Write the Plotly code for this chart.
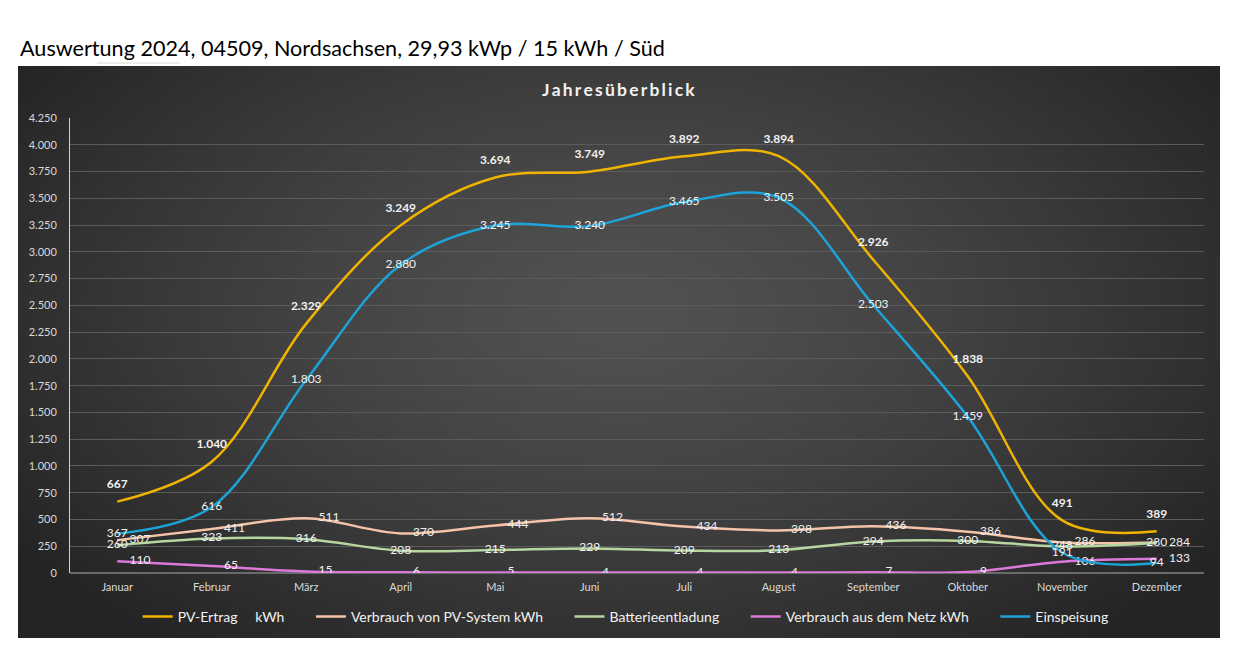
import base64, struct, zlib
import numpy as np
import plotly.graph_objects as go

months = ["Januar", "Februar", "März", "April", "Mai", "Juni", "Juli",
          "August", "September", "Oktober", "November", "Dezember"]
pv_ertrag = [667, 1040, 2329, 3249, 3694, 3749, 3892, 3894, 2926, 1838, 491, 389]
verbrauch_pv = [307, 411, 511, 370, 444, 512, 434, 398, 436, 386, 286, 284]
batterie = [260, 323, 316, 208, 215, 229, 209, 213, 294, 300, 248, 280]
netz = [110, 65, 15, 6, 5, 4, 4, 4, 7, 9, 106, 133]
einspeisung = [367, 616, 1803, 2880, 3245, 3240, 3465, 3505, 2503, 1459, 191, 94]
y_ticks = list(range(0, 4251, 250))

W, H = 1241, 664
ML, MR, MT, MB = 70, 37, 118, 91
PW, PH = W - ML - MR, H - MT - MB


def px_x(p):
    return (p - ML) / PW


def px_y(p):
    return (H - MB - p) / PH


def make_png(w, h):
    yy, xx = np.mgrid[0:h, 0:w]
    cx, cy = w * 0.5, h * 0.42
    d = np.sqrt(((xx - cx) / (w * 0.62)) ** 2 + ((yy - cy) / (h * 0.75)) ** 2)
    d = np.clip(d, 0, 1)
    v = 82 - (82 - 36) * d ** 1.3
    img = np.stack([v, v, v], axis=-1).astype(np.uint8)
    raw = b"".join(b"\x00" + img[r].tobytes() for r in range(h))

    def chunk(t, data):
        c = struct.pack(">I", len(data)) + t + data
        return c + struct.pack(">I", zlib.crc32(t + data) & 0xffffffff)

    png = b"\x89PNG\r\n\x1a\n" + chunk(b"IHDR", struct.pack(">IIBBBBB", w, h, 8, 2, 0, 0, 0))
    png += chunk(b"IDAT", zlib.compress(raw, 9)) + chunk(b"IEND", b"")
    return "data:image/png;base64," + base64.b64encode(png).decode()


FONT = "Lato"
LBL = "#f2f2f2"
PAD = "\u00a0" * 6

fig = go.Figure()

series = [
    ("PV-Ertrag\u00a0\u00a0\u00a0\u00a0 kWh" + PAD, pv_ertrag, "#f0b400", "top center", True, 15),
    ("Verbrauch von PV-System kWh" + PAD, verbrauch_pv, "#f4c3a8", "middle right", False, 18),
    ("Batterieentladung" + PAD, batterie, "#b7d6a0", "middle center", False, 0),
    ("Verbrauch aus dem Netz kWh" + PAD, netz, "#dc78d8", "middle right", False, 18),
    ("Einspeisung", einspeisung, "#1ca3d9", "middle center", False, 0),
]

for name, vals, col, pos, bold, msize in series:
    fig.add_trace(go.Scatter(
        x=months, y=vals, name=name,
        mode="lines+markers+text" if msize else "lines+text",
        line=dict(color=col, width=2.5, shape="spline", smoothing=1.0),
        marker=dict(size=msize if msize else 6, color="rgba(0,0,0,0)"),
        text=vals, texttemplate="<b>%{y:,}</b>" if bold else "%{y:,}",
        textposition=pos,
        textfont=dict(family=FONT, size=12, color=LBL),
        hoverinfo="x+y+name",
    ))

fig.add_layout_image(dict(
    source=make_png(240, 114), xref="paper", yref="paper",
    x=px_x(18), y=px_y(66), sizex=(1220 - 18) / PW, sizey=(638 - 66) / PH,
    xanchor="left", yanchor="top", sizing="stretch", layer="below",
))

fig.add_annotation(
    text="Auswertung 2024, 04509, Nordsachsen, 29,93 kWp / 15 kWh / Süd",
    xref="paper", yref="paper", x=px_x(18), y=px_y(48),
    xanchor="left", yanchor="middle", showarrow=False,
    font=dict(family=FONT, size=21.6, color="#000000"),
)
fig.add_annotation(
    text="<b>" + "\u2009".join("Jahresüberblick") + "</b>",
    xref="paper", yref="paper", x=px_x(618), y=px_y(89),
    xanchor="center", yanchor="middle", showarrow=False,
    font=dict(family=FONT, size=17.5, color="#f2f2f2"),
)
fig.add_shape(type="line", xref="paper", yref="paper",
              x0=px_x(97), x1=px_x(180), y0=px_y(63), y1=px_y(63),
              line=dict(color="#d8d8d8", width=1))

fig.update_layout(
    width=W, height=H,
    margin=dict(l=ML, r=MR, t=MT, b=MB),
    paper_bgcolor="#ffffff", plot_bgcolor="rgba(0,0,0,0)",
    separators=",.",
    font=dict(family=FONT, color="#d9d9d9"),
    showlegend=True,
    legend=dict(orientation="h", x=0.49, xanchor="center", y=px_y(617), yanchor="middle",
                font=dict(family=FONT, size=14, color="#f2f2f2"),
                bgcolor="rgba(0,0,0,0)", itemwidth=30),
    xaxis=dict(showgrid=False, showline=False, ticks="", zeroline=False,
               range=[-0.5, 11.5], ticklabelstandoff=6,
               tickfont=dict(family=FONT, size=11, color="#d9d9d9")),
    yaxis=dict(range=[0, 4250], tickvals=y_ticks, tickformat=",d",
               showgrid=True, gridcolor="#5b5b5b", gridwidth=1,
               zeroline=True, zerolinecolor="#6a6a6a",
               showline=True, linecolor="#c5e0b0", linewidth=1,
               ticks="", ticklabelstandoff=10,
               tickfont=dict(family=FONT, size=11, color="#d9d9d9")),
)

fig.write_html("out.html", config={"displayModeBar": False},
               post_script="document.body.style.margin='0';document.body.style.overflow='hidden';")
